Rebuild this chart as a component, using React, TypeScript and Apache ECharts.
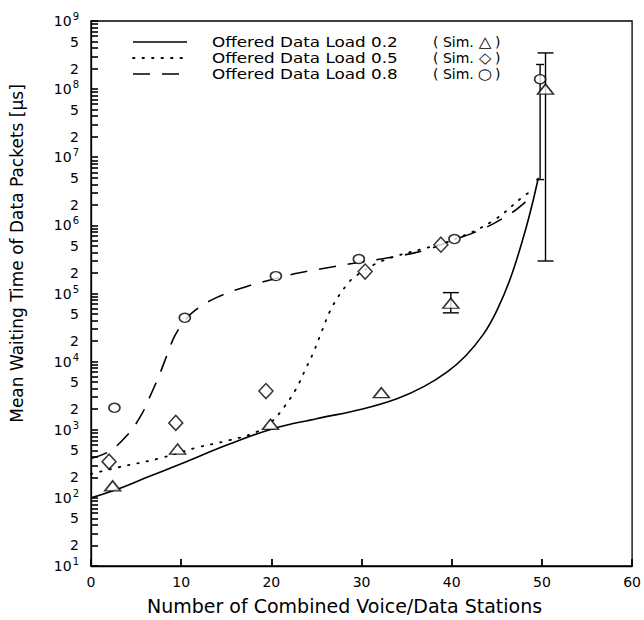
import React, { useEffect, useRef } from "react";
import * as echarts from "echarts";

const FONT = "DejaVu Sans";

// ---- Axis ticks ----
const X_MIN = 0;
const X_MAX = 60;
const X_INTERVAL = 10;
const Y_MIN = 10;
const Y_MAX = 1e9;
const Y_DECADE_EXPONENTS = [1, 2, 3, 4, 5, 6, 7, 8, 9];
const Y_TICK_MANTISSAS = [1, 2, 3, 4, 5, 6, 7, 8, 9];
const Y_LABEL_MANTISSAS = [1, 2, 5];

// ---- Series names / legend texts ----
const SERIES_NAMES = [
  "Offered Data Load 0.2",
  "Offered Data Load 0.5",
  "Offered Data Load 0.8",
];
const SIM_PREFIX = "( Sim.";
const SIM_GLYPHS = ["△", "◇", "○"];
const SIM_SUFFIX = ")";

// ---- Analytical curves: [stations, mean waiting time µs] ----
const LOAD_02_CURVE: [number, number][] = [
  [0, 100], [3, 135], [6, 195], [10, 316], [15, 590], [20, 1020],
  [25, 1450], [30, 2000], [34, 2880], [37, 4370], [39.5, 7080],
  [41.5, 12000], [43.5, 25100], [45, 56200], [46.5, 166000],
  [48, 708000], [49, 2240000], [49.6, 5000000],
];
const LOAD_05_CURVE: [number, number][] = [
  [0, 224], [3, 280], [7.6, 380], [11.8, 550], [15.3, 700], [18.3, 920],
  [20, 1300], [21.4, 2140], [22.7, 3900], [23.8, 7800], [24.7, 14000],
  [25.5, 26000], [26.5, 55000], [27.6, 98000], [28.4, 135000],
  [29.1, 170000], [31.5, 270000], [34, 360000], [37, 460000],
  [40, 600000], [44.5, 1150000], [48, 2700000], [49, 3300000],
];
const LOAD_08_CURVE: [number, number][] = [
  [0, 380], [2, 480], [4, 830], [5.5, 1580], [6.5, 3000], [7.5, 6000],
  [8.5, 13200], [9.3, 24000], [10.4, 40000], [11.5, 56000], [13.9, 87000],
  [17.2, 126000], [20.5, 166000], [23, 200000], [26.7, 245000],
  [30, 290000], [33.3, 340000], [37, 430000], [40, 600000],
  [43.3, 870000], [46.2, 1400000], [47.8, 2000000], [49.1, 3000000],
];

// ---- Simulation results ----
const SIM_02: [number, number][] = [
  [2.4, 150], [9.6, 520], [19.9, 1200], [32.2, 3500], [39.9, 72000], [50.4, 100000000],
];
const SIM_05: [number, number][] = [
  [2.0, 340], [9.4, 1260], [19.4, 3700], [30.4, 210000], [38.8, 520000],
];
const SIM_08: [number, number][] = [
  [2.6, 2100], [10.4, 44000], [20.5, 180000], [29.7, 320000], [40.3, 630000], [49.8, 140000000],
];
// confidence intervals: [stations, low, high]
const SIM_02_ERR: [number, number, number][] = [
  [39.9, 52000, 103000],
  [50.4, 300000, 340000000],
];
const SIM_08_ERR: [number, number, number][] = [
  [49.8, 4700000, 230000000],
];

function buildValues(mantissas: number[]): number[] {
  const out: number[] = [];
  for (const e of Y_DECADE_EXPONENTS) {
    for (const m of mantissas) {
      const v = m * Math.pow(10, e - 1);
      if (v >= Y_MIN && v <= Y_MAX) out.push(v);
    }
  }
  out.push(Y_MAX);
  return Array.from(new Set(out));
}

function errorBarSeries(data: [number, number, number][], capHalf: number) {
  return {
    type: "custom",
    data,
    z: 5,
    renderItem: (params: any, api: any) => {
      const x = api.value(0);
      const lo = api.coord([x, api.value(1)]);
      const hi = api.coord([x, api.value(2)]);
      const style = { stroke: "#000", lineWidth: 1.4 };
      return {
        type: "group",
        children: [
          { type: "line", shape: { x1: lo[0], y1: lo[1], x2: hi[0], y2: hi[1] }, style },
          { type: "line", shape: { x1: hi[0] - capHalf, y1: hi[1], x2: hi[0] + capHalf, y2: hi[1] }, style },
          { type: "line", shape: { x1: lo[0] - capHalf, y1: lo[1], x2: lo[0] + capHalf, y2: lo[1] }, style },
        ],
      };
    },
  };
}

const LINE_DASHES: any[] = [null, [1.5, 8], [17, 12]];
const LINE_WIDTHS = [1.6, 1.8, 1.6];

export default function App() {
  const ref = useRef<HTMLDivElement>(null);

  useEffect(() => {
    if (!ref.current) return;
    const chart = echarts.init(ref.current, undefined, { renderer: "svg" });
    const tickValues = buildValues(Y_TICK_MANTISSAS);
    const labelValues = buildValues(Y_LABEL_MANTISSAS);

    const lineBase = {
      type: "line",
      symbol: "none",
      smooth: 0.4,
      z: 3,
    };

    // legend drawn as graphic elements
    const legendTop = 42;
    const legendRow = 16;
    const legendGraphics: any[] = [];
    const txt = (x: number, y: number, text: string, size: number, sx = 1, align = "left") => ({
      type: "text",
      x,
      y,
      scaleX: sx,
      style: {
        text,
        fontFamily: FONT,
        fontSize: size,
        lineHeight: 14,
        fill: "#000",
        align,
        verticalAlign: "middle",
      },
    });
    SERIES_NAMES.forEach((name, i) => {
      const y = legendTop + i * legendRow;
      legendGraphics.push({
        type: "line",
        shape: { x1: 133, y1: y, x2: 187, y2: y },
        style: {
          stroke: "#000",
          lineWidth: LINE_WIDTHS[i],
          lineDash: LINE_DASHES[i] || undefined,
          lineCap: i === 1 ? "round" : "butt",
        },
      });
      legendGraphics.push(txt(212, y, name, 14, 1.2));
      legendGraphics.push(txt(433, y, SIM_PREFIX, 14, 1.0));
      legendGraphics.push(txt(485, y, SIM_GLYPHS[i], 15, 1.1, "center"));
      legendGraphics.push(txt(495, y, SIM_SUFFIX, 14, 1.0));
    });

    const option: any = {
      animation: false,
      backgroundColor: "#fff",
      textStyle: { fontFamily: FONT, color: "#000" },
      grid: {
        left: 91,
        right: 9,
        top: 21,
        bottom: 53,
        show: true,
        backgroundColor: "transparent",
        borderColor: "#000",
        borderWidth: 1.3,
      },
      graphic: legendGraphics,
      xAxis: {
        type: "value",
        min: X_MIN,
        max: X_MAX,
        interval: X_INTERVAL,
        name: "Number of Combined Voice/Data Stations",
        nameLocation: "middle",
        nameGap: 30,
        nameTextStyle: { fontFamily: FONT, fontSize: 19, color: "#000", padding: [0, 34, 0, 0] },
        axisLine: { show: true, lineStyle: { color: "#000", width: 1.3 } },
        axisTick: { show: true, inside: true, length: 7, lineStyle: { color: "#000", width: 1.8 } },
        axisLabel: { fontFamily: FONT, fontSize: 14, color: "#000", margin: 9 },
        splitLine: { show: false },
        z: 20,
      },
      yAxis: {
        type: "log",
        logBase: 10,
        min: Y_MIN,
        max: Y_MAX,
        name: "Mean Waiting Time of Data Packets [µs]",
        nameLocation: "middle",
        nameGap: 66,
        nameTextStyle: { fontFamily: FONT, fontSize: 17, color: "#000", padding: [0, 0, 0, 80] },
        axisLine: { show: true, lineStyle: { color: "#000", width: 1.3 } },
        axisTick: {
          show: true,
          inside: true,
          length: 7,
          customValues: tickValues,
          lineStyle: { color: "#000", width: 1.6 },
        },
        axisLabel: {
          customValues: labelValues,
          fontFamily: FONT,
          fontSize: 14,
          color: "#000",
          margin: 12,
          formatter: (v: number) => {
            const e = Math.floor(Math.log10(v) + 1e-9);
            const m = Math.round(v / Math.pow(10, e));
            if (m === 1) return `10{sup|${e}}`;
            return String(m);
          },
          rich: {
            sup: { fontFamily: FONT, fontSize: 10, color: "#000", padding: [0, 0, 9, 1] },
          },
        },
        splitLine: { show: false },
        minorTick: { show: false },
        z: 20,
      },
      series: [
        {
          ...lineBase,
          name: SERIES_NAMES[0],
          data: LOAD_02_CURVE,
          lineStyle: { color: "#000", width: LINE_WIDTHS[0], type: "solid" },
        },
        {
          ...lineBase,
          name: SERIES_NAMES[1],
          data: LOAD_05_CURVE,
          lineStyle: { color: "#000", width: LINE_WIDTHS[1], type: LINE_DASHES[1], cap: "round" },
        },
        {
          ...lineBase,
          name: SERIES_NAMES[2],
          data: LOAD_08_CURVE,
          lineStyle: { color: "#000", width: LINE_WIDTHS[2], type: LINE_DASHES[2] },
        },
        {
          type: "scatter",
          name: "Sim 0.2",
          data: SIM_02,
          symbol: "triangle",
          symbolSize: [16, 10],
          z: 6,
          itemStyle: { color: "#fff", borderColor: "#000", borderWidth: 1.5 },
        },
        {
          type: "scatter",
          name: "Sim 0.5",
          data: SIM_05,
          symbol: "diamond",
          symbolSize: [14, 15],
          z: 6,
          itemStyle: { color: "#fff", borderColor: "#000", borderWidth: 1.5 },
        },
        {
          type: "scatter",
          name: "Sim 0.8",
          data: SIM_08,
          symbol: "circle",
          symbolSize: [11, 9],
          z: 6,
          itemStyle: { color: "#fff", borderColor: "#000", borderWidth: 1.5 },
        },
        errorBarSeries(SIM_02_ERR, 8),
        errorBarSeries(SIM_08_ERR, 4),
      ],
    };

    chart.setOption(option);
    return () => chart.dispose();
  }, []);

  return (
    <div
      ref={ref}
      style={{ position: "fixed", left: 0, top: 0, width: 644, height: 620, background: "#fff" }}
    />
  );
}
